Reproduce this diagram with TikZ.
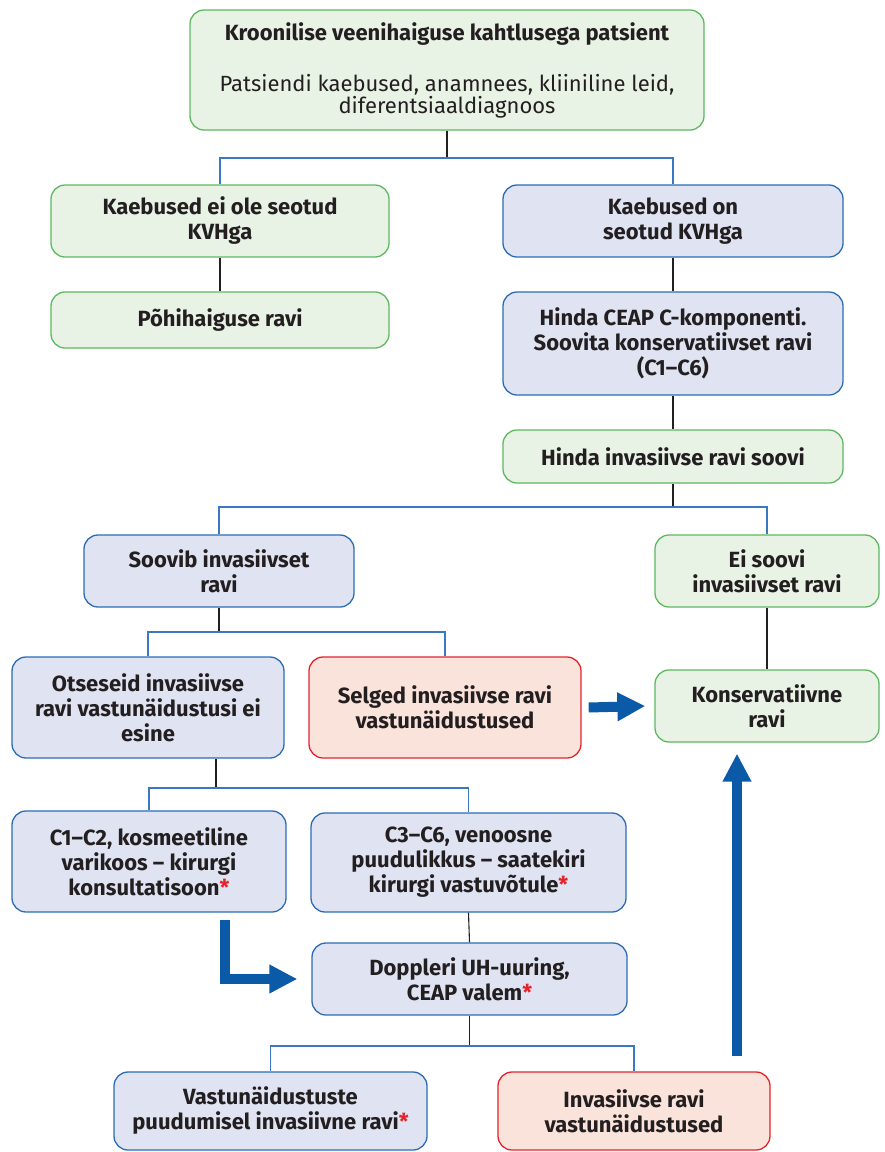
\documentclass[tikz,border=0pt]{standalone}
\usepackage{fontspec}
\setmainfont{Fira Sans}
\usetikzlibrary{arrows.meta}
\definecolor{txt}{HTML}{231F20}
\definecolor{gfill}{HTML}{E8F3E6}
\definecolor{gline}{HTML}{5DB85F}
\definecolor{bfill}{HTML}{DFE3F2}
\definecolor{bline}{HTML}{2B6CB5}
\definecolor{rfill}{HTML}{FAE3DA}
\definecolor{rline}{HTML}{E2232B}
\definecolor{conblue}{HTML}{3A78C0}
\definecolor{bigarrow}{HTML}{0B5AA8}
\definecolor{astred}{HTML}{E2232B}
\newcommand{\redast}{{\color{astred}*}}
\tikzset{
  box/.style={rounded corners=14pt, line width=1.3pt, align=center, inner sep=0pt,
    text=txt, font=\fontsize{22}{25}\selectfont\bfseries},
  gbox/.style={box, fill=gfill, draw=gline},
  bbox/.style={box, fill=bfill, draw=bline},
  rbox/.style={box, fill=rfill, draw=rline},
  dk/.style={draw=txt, line width=1.1pt},
  bl/.style={draw=conblue, line width=1.3pt},
  fat/.style={draw=bigarrow, line width=10pt, line join=miter,
    -{Triangle[length=28pt,width=27pt]}},
}
\begin{document}
\begin{tikzpicture}[x=1pt,y=-1pt]
\useasboundingbox (0,0) rectangle (885,1152);
% boxes
\node[gbox, minimum width=514pt, minimum height=120pt] (top) at (447,70)
  {Kroonilise veenihaiguse kahtlusega patsient\\[26pt]
   \mdseries Patsiendi kaebused, anamnees, kliiniline leid,\\[-3pt] \mdseries diferentsiaaldiagnoos};
\node[gbox, minimum width=338pt, minimum height=72pt] (kno) at (220,221) {Kaebused ei ole seotud\\KVHga};
\node[gbox, minimum width=338pt, minimum height=56pt] (pohi) at (220,320) {Põhihaiguse ravi};
\node[bbox, minimum width=340pt, minimum height=72pt] (kon) at (673,221) {Kaebused on\\seotud KVHga};
\node[bbox, minimum width=340pt, minimum height=103pt] (ceap) at (673,343.5) {Hinda CEAP C-komponenti.\\Soovita konservatiivset ravi\\(C1–C6)};
\node[gbox, minimum width=340pt, minimum height=53pt] (hinda) at (673,456.5) {Hinda invasiivse ravi soovi};
\node[bbox, minimum width=270pt, minimum height=72pt] (soovib) at (219,571) {Soovib invasiivset\\ravi};
\node[gbox, minimum width=224pt, minimum height=72pt] (eisoovi) at (767,571) {Ei soovi\\invasiivset ravi};
\node[bbox, minimum width=272pt, minimum height=101pt] (otse) at (148,707.5) {Otseseid invasiivse\\ravi vastunäidustusi ei\\esine};
\node[rbox, minimum width=272pt, minimum height=101pt] (selged) at (445,707.5) {Selged invasiivse ravi\\vastunäidustused};
\node[gbox, minimum width=224pt, minimum height=72pt] (konserv) at (767,706) {Konservatiivne\\ravi};
\node[bbox, minimum width=274pt, minimum height=101pt] (c12) at (149,861.5) {C1–C2, kosmeetiline\\varikoos – kirurgi\\konsultatisoon\redast};
\node[bbox, minimum width=315pt, minimum height=99pt] (c36) at (468.5,862.5) {C3–C6, venoosne\\puudulikkus – saatekiri\\kirurgi vastuvõtule\redast};
\node[bbox, minimum width=315pt, minimum height=72pt] (dop) at (469.5,979) {Doppleri UH-uuring,\\CEAP valem\redast};
\node[bbox, minimum width=313pt, minimum height=78pt] (vastu) at (270.5,1111) {Vastunäidustuste\\puudumisel invasiivne ravi\redast};
\node[rbox, minimum width=272pt, minimum height=78pt] (invas) at (634,1111) {Invasiivse ravi\\vastunäidustused};
% junctions
\coordinate (j1) at (447,158);
\coordinate (j2) at (673,507);
\coordinate (j3) at (219,632);
\coordinate (j4) at (216,788);
\coordinate (j5) at (469.5,1046);
\coordinate (upstart) at (737,1056);
% connectors
\draw[dk] (top.south) -- (j1);
\draw[bl] (kno.north) -- (kno.north |- j1) -- (kon.north |- j1) -- (kon.north);
\draw[dk] (kno.south) -- (pohi.north);
\draw[dk] (kon.south) -- (ceap.north);
\draw[dk] (ceap.south) -- (hinda.north);
\draw[dk] (hinda.south) -- (j2);
\draw[bl] (soovib.north) -- (soovib.north |- j2) -- (eisoovi.north |- j2) -- (eisoovi.north);
\draw[dk] (eisoovi.south) -- (konserv.north);
\draw[dk] (soovib.south) -- (j3);
\draw[bl] (otse.north) -- (otse.north |- j3) -- (selged.north |- j3) -- (selged.north);
\draw[dk] ([xshift=68pt]otse.south) -- (j4);
\draw[bl] (c12.north) -- (c12.north |- j4) -- (c36.north |- j4) -- (c36.north);
\draw[dk] (c36.south) -- (dop.north);
\draw[dk] (dop.south) -- (j5);
\draw[bl] (vastu.north) -- (vastu.north |- j5) -- (invas.north |- j5) -- (invas.north);
% thick arrows
\draw[fat] ([xshift=7pt]selged.east) -- ([xshift=-9pt]konserv.west);
\draw[fat] ([xshift=76pt,yshift=-7pt]c12.south) |- ([xshift=-14pt]dop.west);
\draw[fat] (upstart) -- ([xshift=-30pt,yshift=-11pt]konserv.south);
\end{tikzpicture}
\end{document}
